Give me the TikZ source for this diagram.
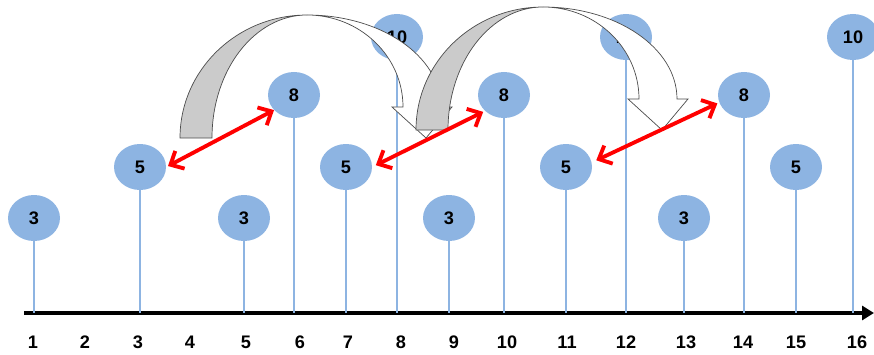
\documentclass[tikz,border=0pt]{standalone}
\usepackage{fontspec}
\setmainfont{Liberation Sans}
\usetikzlibrary{arrows.meta,shapes.geometric}
\definecolor{nodo}{RGB}{141,180,226}
\definecolor{grigio}{RGB}{203,203,203}
\tikzset{
  valore/.style  = {ellipse, fill=nodo, minimum width=15.6mm, minimum height=13.8mm, inner sep=0, font=\fontsize{15.5}{18}\selectfont\bfseries},
  asta/.style    = {draw=nodo, line width=2.4pt},
  asse/.style    = {line width=3.4pt, -{Triangle[length=3.6mm,width=4.2mm]}},
  et/.style      = {font=\fontsize{15.5}{18}\selectfont\bfseries},
  scambio/.style = {red, line width=3.3pt, {Straight Barb[length=3.2mm,width=6mm]}-{Straight Barb[length=3.2mm,width=6mm]}},
  fascia/.style  = {draw=black!70, line width=0.6pt}
}

\begin{document}
\begin{tikzpicture}[x=0.3mm, y=0.3mm]

  \useasboundingbox (0,0) rectangle (874,354);

  % asse
  \coordinate (o) at (24,41);
  \coordinate (e) at (874,41);
  \draw[asse] (o) -- (e);
  \foreach \i/\x in {1/33, 2/85, 3/138, 4/190, 5/246, 6/300, 7/348, 8/401, 9/454, 10/507, 11/567, 12/626, 13/686, 14/743, 15/796, 16/857}
    \node[et] (l\i) at (\x,12) {\i};

  % valori
  \foreach \n/\x/\y/\v in {1/34/136/3, 3/140/187/5, 5/244/136/3, 6/294/259/8, 7/346/187/5, 8/397/317/10, 9/449/136/3, 10/504/259/8, 11/566/187/5, 12/626/317/10, 13/684/136/3, 14/744/259/8, 15/796/187/5, 16/853/317/10}{
    \node[valore] (n\n) at (\x,\y) {\v};
    \draw[asta] (n\n.south) -- (n\n |- o);
  }

  % salti
  \foreach \tx/\ty/\k in {307/339/a, 543/347/b}{
    \coordinate (t\k) at (\tx,\ty);
    \filldraw[fascia, fill=grigio] ([shift={(-127,-123)}]t\k) arc[start angle=180, end angle=90, x radius=127, y radius=123]
      arc[start angle=90, end angle=180, x radius=95, y radius=123] -- cycle;
    \filldraw[fascia, fill=white] (t\k) arc[start angle=90, end angle=0, x radius=134, y radius=92] -- ++(11,0)
      -- ([shift={(119,-123)}]t\k) -- ([shift={(85,-92)}]t\k) -- ++(11,0)
      arc[start angle=0, end angle=90, x radius=96, y radius=92] -- cycle;
  }

  % scambi
  \draw[scambio, shorten <=0.6mm] (n3.east) -- (n6.217);
  \draw[scambio, shorten <=1.2mm, shorten >=0.6mm] (n7.east) -- (n10.220);
  \draw[scambio, shorten <=1.5mm, shorten >=0.6mm] (n11.10) -- (n14.197);

\end{tikzpicture}
\end{document}
